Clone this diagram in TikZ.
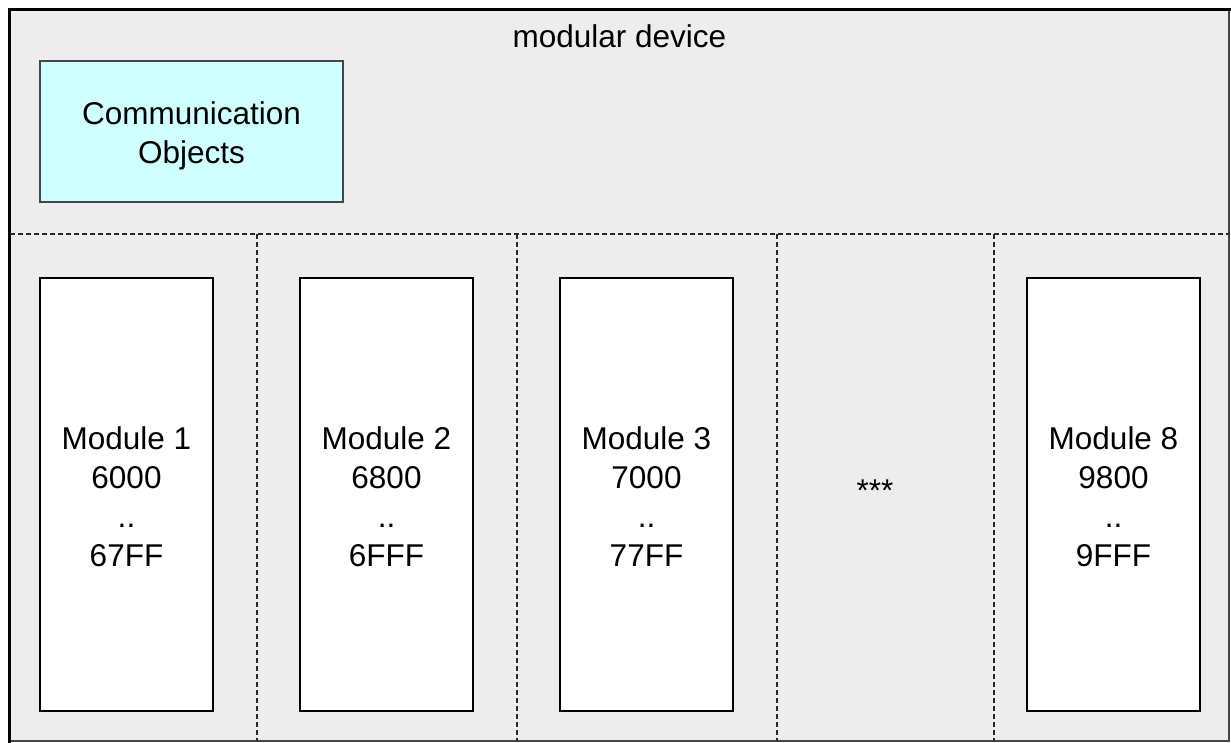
\documentclass[tikz,border=0pt]{standalone}
\usepackage{fontspec}
\setmainfont{Liberation Sans}
\definecolor{bggray}{RGB}{237,237,237}
\definecolor{commcyan}{RGB}{208,255,255}
\definecolor{dashgray}{RGB}{40,40,40}
\definecolor{edgegray}{RGB}{70,70,70}
\begin{document}
\begin{tikzpicture}[x=1pt,y=-1pt,
  txt/.style={font=\fontsize{31.5}{39}\selectfont, inner sep=0pt, align=center},
  modbox/.style={draw=black, line width=1.2pt, fill=white, minimum width=173pt, minimum height=433pt, inner sep=0pt},
  commbox/.style={draw=edgegray, line width=1.2pt, fill=commcyan, minimum width=303pt, minimum height=141pt, inner sep=0pt},
  divider/.style={draw=dashgray, line width=1.3pt, dash pattern=on 5pt off 3pt}]
\useasboundingbox (0,0) rectangle (1231,742);
% outer device area
\fill[bggray] (9.5,9.5) rectangle (1229,741);
\coordinate (TL) at (9.5,9.5);
\coordinate (TR) at (1229,9.5);
\coordinate (BL) at (9.5,741);
\coordinate (BR) at (1229,741);
\draw[edgegray, line width=2pt] (TR) -- (BR) -- (BL);
\draw[black, line width=3.5pt, line cap=rect] (BL) -- (TL) -- (TR);
% dividers
\coordinate (HL) at (9.5,234);
\coordinate (HR) at (1229,234);
\draw[divider] (HL) -- (HR);
\foreach \x/\n in {257/a,517/b,777/c,994/d}{
  \coordinate (v\n top) at (\x,234);
  \coordinate (v\n bot) at (\x,741);
  \draw[divider] (v\n top) -- (v\n bot);
}
% title
\node[txt, anchor=base] (title) at (619.5,47) {modular device};
% communication objects
\node[commbox] (comm) at (191.5,131.5) {};
\node[txt, anchor=north] (commtxt) at (191.5,101.4) {Communication\\Objects};
% modules
\node[modbox] (m1) at (126.5,494.5) {};
\node[modbox] (m2) at (386.5,494.5) {};
\node[modbox] (m3) at (646.5,494.5) {};
\node[modbox] (m8) at (1113.5,494.5) {};
\node[txt, anchor=north] (m1txt) at (126.5,426.4) {Module 1\\6000\\..\\67FF};
\node[txt, anchor=north] (m2txt) at (386.5,426.4) {Module 2\\6800\\..\\6FFF};
\node[txt, anchor=north] (m3txt) at (646.5,426.4) {Module 3\\7000\\..\\77FF};
\node[txt, anchor=north] (m8txt) at (1113.5,426.4) {Module 8\\9800\\..\\9FFF};
\node[txt, anchor=base] (dots) at (875,501.5) {***};
\end{tikzpicture}
\end{document}
